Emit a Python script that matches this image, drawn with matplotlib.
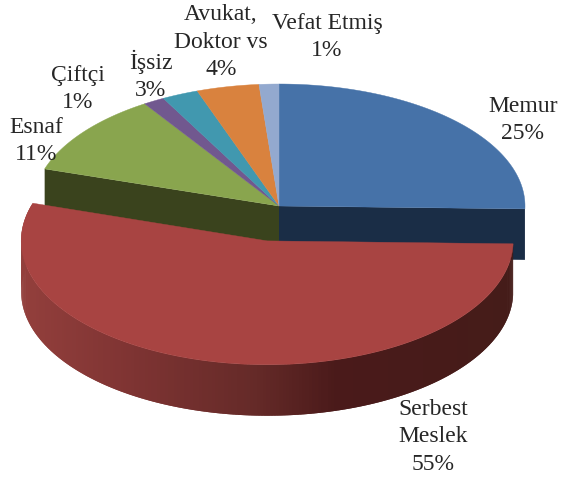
import numpy as np
import matplotlib
matplotlib.use("Agg")
import matplotlib.pyplot as plt
from matplotlib.colors import LinearSegmentedColormap

# shares as they are drawn in the picture (labels carry the rounded numbers)
names = ["Memur", "Serbest\nMeslek", "Esnaf", "Çiftçi", "İşsiz", "Avukat,\nDoktor vs", "Vefat Etmiş"]
shares = [25.4, 54.6, 10.9, 1.4, 2.4, 4.1, 1.3]
percent = ["25%", "55%", "11%", "1%", "3%", "4%", "1%"]
explode = [0, 0.29, 0, 0, 0, 0, 0]

top_colors = ["#4672a8", "#a84442", "#89a54e", "#71588f", "#4198af", "#d9823e", "#93a9cf"]
wall_colors = ["#1a2d46", "#4a1c1a", "#3a431d", "#2f2440", "#1b3f4a", "#5b3719", "#3d4757"]
label_xy = [(523, 120), (433, 437), (36, 141), (78, 89), (151, 75), (221, 42), (327, 37)]

cx, cy = 279, 206
rx, ry = 246, 122
depth = 51

red_wall = LinearSegmentedColormap.from_list(
    "red_wall",
    [(0, "#451c19"), (0.355, "#4a1a1a"), (0.52, "#652a28"), (0.78, "#7f3433"), (1, "#933f3c")])


def ell(angle, c, sy=1.0):
    # angle in degrees clockwise from 12 o'clock
    a = np.radians(angle)
    return c[0] + rx * np.sin(a), c[1] - sy * ry * np.cos(a)


fig = plt.figure(figsize=(5.62, 4.79), dpi=100)
ax = fig.add_axes([0, 0, 1, 1])
ax.set_xlim(0, 562)
ax.set_ylim(479, 0)
ax.axis("off")

edges = np.concatenate([[0], np.cumsum(shares)]) / sum(shares) * 360
slices = []
for i in range(len(shares)):
    a0, a1 = edges[i], edges[i + 1]
    mid = np.radians((a0 + a1) / 2)
    c = (cx + explode[i] * rx * np.sin(mid), cy - explode[i] * ry * np.cos(mid))
    slices.append((i, a0, a1, c, 1.015 if explode[i] else 1.0))

# walls of the gap left by the exploded slice
n = len(shares)
for i, a0, a1, c, s in slices:
    if explode[i]:
        continue
    if explode[(i + 1) % n]:
        walls = [a1]
    elif explode[(i - 1) % n]:
        walls = [a0]
    else:
        walls = []
    for a in walls:
        px, py = ell(a, c, s)
        ax.fill([c[0], px, px, c[0]], [c[1], py, py + depth, c[1] + depth],
                color=wall_colors[i], lw=0, zorder=2)
for i, a0, a1, c, s in slices:
    if explode[i]:
        continue
    t = np.linspace(a0, a1, 80)
    px, py = ell(t, c, s)
    ax.fill(np.r_[c[0], px], np.r_[c[1], py], color=top_colors[i], lw=0.3, zorder=3)

# exploded slice: curved wall with shading, then its top
for i, a0, a1, c, s in slices:
    if not explode[i]:
        continue
    t = np.linspace(a0, a1, 260)
    px, py = ell(t, c, s)
    left, right = px.min(), px.max()
    for k in range(len(t) - 2):
        shade = red_wall((right - px[k]) / (right - left))
        ax.fill([px[k], px[k + 2], px[k + 2], px[k]],
                [py[k], py[k + 2], py[k + 2] + depth, py[k] + depth],
                color=shade, lw=0, zorder=4)
    ax.fill(np.r_[c[0], px], np.r_[c[1], py], color=top_colors[i], lw=0.3, zorder=5)

for name, p, xy in zip(names, percent, label_xy):
    ax.text(xy[0], xy[1], name + "\n" + p, ha="center", va="center", color="#262626",
            family="Liberation Serif", fontsize=17, linespacing=1.38, zorder=6)

fig.savefig("out.png", dpi=100)
